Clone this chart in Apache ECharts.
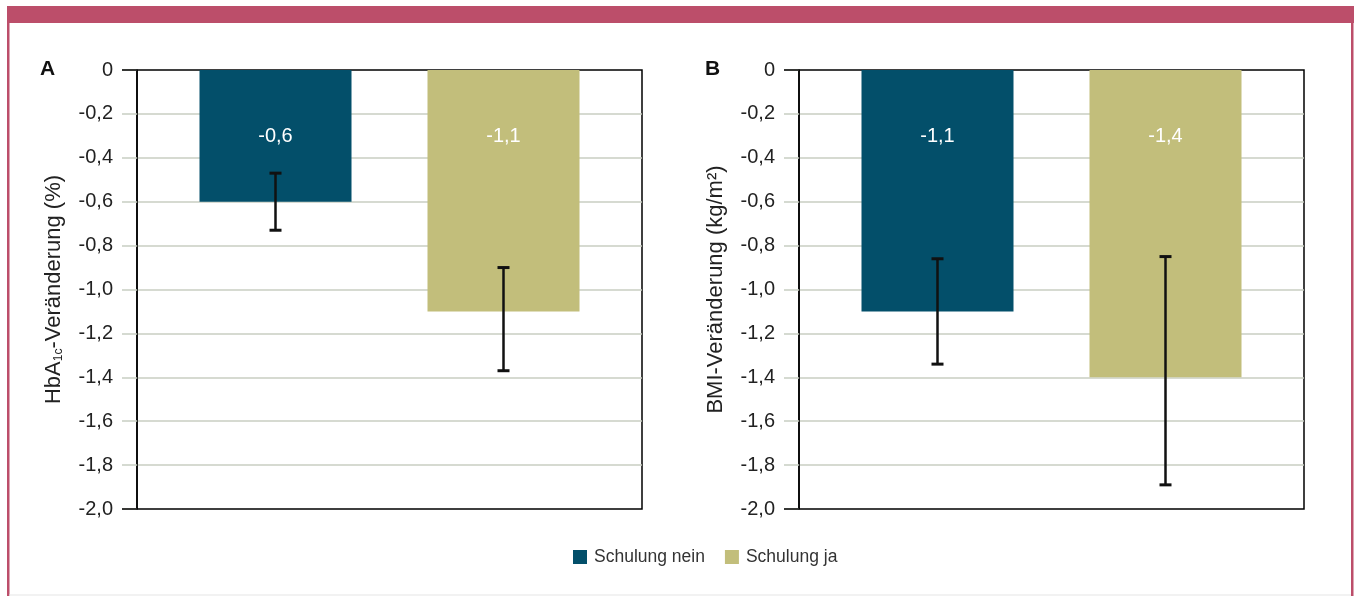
<!DOCTYPE html>
<html>
<head>
<meta charset="utf-8">
<title>HbA1c- und BMI-Veränderung nach Schulung</title>
<script src="https://cdn.jsdelivr.net/npm/echarts@6/dist/echarts.min.js"></script>
<style>
  html, body { margin: 0; padding: 0; background: #fff; }
  #chart { width: 1356px; height: 596px; }
</style>
</head>
<body>
<div id="chart"></div>
<script>
// Panels: A = HbA1c change, B = BMI change
const panels = ['A', 'B'];
const seriesNames = ['Schulung nein', 'Schulung ja'];

// Mean change per panel [A, B]
const neinValues = [-0.6, -1.1];
const jaValues = [-1.1, -1.4];

// Error bar bounds per panel [A, B]
const neinLower = [-0.73, -1.34];
const neinUpper = [-0.47, -0.86];
const jaLower = [-1.37, -1.89];
const jaUpper = [-0.90, -0.85];

// Y axis range and step
const yMin = -2.0;
const yMax = 0;
const yStep = 0.2;

const axisNames = [
  '{a|HbA}{s|1c}{a|-Veränderung (%)}',
  '{a|BMI-Veränderung (kg/m²)}'
];

const COLORS = ['#034f6a', '#c2be7b'];
const FONT = '"Liberation Sans", Arial, Helvetica, sans-serif';
const TEXT = '#222';
const GRID_LINE = '#c8cec2';
const BAR_W = 152;
const BAR_GAP = 76;
const OFFSET = (BAR_W + BAR_GAP) / 2;
const TICK_LEN = 15;

const fmt = v => (Math.abs(v) < 1e-9 ? '0' : v.toFixed(1).replace('.', ','));

const gridLefts = [137, 799];
const grids = gridLefts.map(left => ({
  left: left, top: 70, width: 505, height: 439,
  show: true, borderColor: '#000', borderWidth: 1.5, backgroundColor: '#fff'
}));

const xAxes = panels.map((p, i) => ({
  type: 'category', gridIndex: i, data: [p],
  axisLine: { show: false }, axisTick: { show: false }, axisLabel: { show: false }
}));

const yAxes = panels.map((p, i) => ({
  type: 'value', gridIndex: i, min: yMin, max: yMax, interval: yStep,
  name: axisNames[i], nameLocation: 'middle', nameGap: 72, nameRotate: 90,
  nameTextStyle: {
    fontFamily: FONT, fontSize: 22, color: TEXT,
    rich: {
      a: { fontFamily: FONT, fontSize: 22, color: TEXT },
      s: { fontFamily: FONT, fontSize: 12, color: TEXT, verticalAlign: 'bottom', padding: [9, 0, 0, 0] }
    }
  },
  axisLine: { show: true, lineStyle: { color: '#000', width: 1.5 } },
  axisTick: { show: true, length: TICK_LEN, lineStyle: { color: GRID_LINE, width: 1.5 } },
  axisLabel: { fontFamily: FONT, fontSize: 20, color: TEXT, margin: 24, formatter: fmt },
  splitLine: { show: true, showMinLine: false, showMaxLine: false, lineStyle: { color: GRID_LINE, width: 1.5 } }
}));

const barLabel = {
  show: true, position: 'insideTop', distance: 56,
  fontFamily: FONT, fontSize: 20, color: '#fff',
  formatter: p => fmt(p.value)
};

const series = [];
panels.forEach((p, i) => {
  series.push({
    name: seriesNames[0], type: 'bar', xAxisIndex: i, yAxisIndex: i,
    barWidth: BAR_W, barGap: (BAR_GAP / BAR_W * 100) + '%',
    itemStyle: { color: COLORS[0] }, label: barLabel,
    data: [neinValues[i]], animation: false
  });
  series.push({
    name: seriesNames[1], type: 'bar', xAxisIndex: i, yAxisIndex: i,
    barWidth: BAR_W, barGap: (BAR_GAP / BAR_W * 100) + '%',
    itemStyle: { color: COLORS[1] }, label: barLabel,
    data: [jaValues[i]], animation: false
  });
});

// Error bars drawn over the bars
function errorBars(i) {
  const rows = [
    [0, neinLower[i], neinUpper[i], -OFFSET],
    [0, jaLower[i], jaUpper[i], OFFSET]
  ];
  return {
    type: 'custom', xAxisIndex: i, yAxisIndex: i, z: 10, silent: true,
    animation: false,
    data: rows,
    renderItem: (params, api) => {
      const lo = api.coord([api.value(0), api.value(1)]);
      const hi = api.coord([api.value(0), api.value(2)]);
      const x = lo[0] + api.value(3);
      const cap = 6;
      const style = { stroke: '#111', lineWidth: 2.5 };
      return {
        type: 'group',
        children: [
          { type: 'line', shape: { x1: x, y1: hi[1], x2: x, y2: lo[1] }, style },
          { type: 'line', shape: { x1: x - cap, y1: hi[1], x2: x + cap, y2: hi[1] }, style: { stroke: '#111', lineWidth: 3 } },
          { type: 'line', shape: { x1: x - cap, y1: lo[1], x2: x + cap, y2: lo[1] }, style: { stroke: '#111', lineWidth: 3 } }
        ]
      };
    }
  };
}
series.push(errorBars(0), errorBars(1));

const PINK = '#bc4e6a';
const frame = [
  { id: 'band', type: 'rect', left: 7, top: 6, shape: { width: 1347, height: 17 }, style: { fill: PINK }, silent: true },
  { id: 'sideL', type: 'rect', left: 7, top: 23, shape: { width: 2.5, height: 573 }, style: { fill: PINK }, silent: true },
  { id: 'sideR', type: 'rect', left: 1351, top: 23, shape: { width: 2.5, height: 573 }, style: { fill: PINK }, silent: true },
  { id: 'base', type: 'rect', left: 9, top: 594.5, shape: { width: 1342, height: 1 }, style: { fill: '#e6e6e6' }, silent: true },
  { id: 'tagA', type: 'text', left: 40, top: 59, style: { text: 'A', fontFamily: FONT, fontSize: 21, fontWeight: 'bold', fill: '#111' } },
  { id: 'tagB', type: 'text', left: 705, top: 59, style: { text: 'B', fontFamily: FONT, fontSize: 21, fontWeight: 'bold', fill: '#111' } }
];

const option = {
  backgroundColor: '#fff',
  animation: false,
  textStyle: { fontFamily: FONT },
  grid: grids,
  xAxis: xAxes,
  yAxis: yAxes,
  legend: {
    data: seriesNames, left: 573, top: 548, padding: 0,
    itemWidth: 14, itemHeight: 14, itemGap: 20,
    icon: 'rect',
    textStyle: { fontFamily: FONT, fontSize: 17.5, color: '#333', padding: [0, 0, 0, 2] }
  },
  graphic: frame,
  series: series
};

const chart = echarts.init(document.getElementById('chart'), null, { renderer: 'canvas' });
chart.setOption(option);

// Black ticks where the plot frame meets the value axis (at 0 and -2,0)
const endTicks = [];
panels.forEach((p, i) => {
  [yMax, yMin].forEach((v, k) => {
    const pt = chart.convertToPixel({ xAxisIndex: i, yAxisIndex: i }, [0, v]);
    const y = pt[1];
    const x0 = gridLefts[i];
    endTicks.push({
      id: 'endTick' + i + k, type: 'line', z: 100, silent: true,
      shape: { x1: x0 - TICK_LEN, y1: y, x2: x0, y2: y },
      style: { stroke: '#000', lineWidth: 1.5 }
    });
  });
});
chart.setOption({ graphic: frame.concat(endTicks) });
</script>
</body>
</html>
